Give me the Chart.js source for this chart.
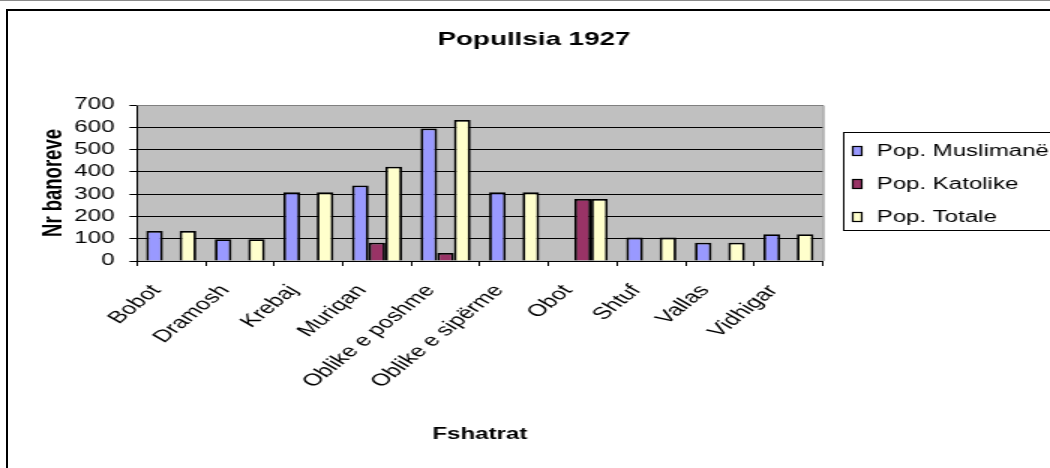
<!DOCTYPE html>
<html>
<head>
<meta charset="utf-8">
<script src="https://cdn.jsdelivr.net/npm/chart.js@4/dist/chart.umd.min.js"></script>
<style>
  html, body { margin: 0; padding: 0; background: #fff; width: 1050px; height: 468px; overflow: hidden; }
  #topline { position: absolute; left: 0; top: 0; width: 1050px; height: 1px; background: #8a8a8a; }
  #frame { position: absolute; left: 6px; top: 9px; width: 1100px; height: 520px; border: 2px solid #000; box-sizing: border-box; }
  #c { position: absolute; left: 0; top: 0; }
</style>
</head>
<body>
<div id="topline"></div>
<div id="frame"></div>
<canvas id="c" width="700" height="468" style="width:1050px;height:468px;"></canvas>
<script>
// ---- data ----
const chartTitle = 'Popullsia 1927';
const xAxisTitle = 'Fshatrat';
const yAxisTitle = 'Nr banoreve';
const categories = ['Bobot', 'Dramosh', 'Krebaj', 'Muriqan', 'Oblike e poshme', 'Oblike e sipërme', 'Obot', 'Shtuf', 'Vallas', 'Vidhigar'];
const seriesNames = ['Pop. Muslimanë', 'Pop. Katolike', 'Pop. Totale'];
const popMuslimane = [135, 98, 308, 339, 595, 308, null, 105, 82, 120];
const popKatolike  = [null, null, null, 82, 36, null, 278, null, null, null];
const popTotale    = [135, 98, 308, 423, 633, 308, 278, 105, 82, 120];
const yTicks = [0, 100, 200, 300, 400, 500, 600, 700];
const seriesColors = ['#9999FF', '#993366', '#FFFFCC'];

Chart.defaults.font.family = '"Liberation Sans", Arial, sans-serif';
Chart.defaults.color = '#000';

const decorPlugin = {
  id: 'decor',
  beforeDraw(chart) {
    const { ctx, chartArea: a } = chart;
    ctx.save();
    ctx.fillStyle = '#C0C0C0';
    ctx.fillRect(a.left, a.top, a.right - a.left, a.bottom - a.top);
    ctx.restore();
  },
  afterDraw(chart) {
    const { ctx, chartArea: a } = chart;
    ctx.save();
    ctx.strokeStyle = '#808080';
    ctx.lineWidth = 1;
    ctx.beginPath();
    ctx.moveTo(a.left, a.top + 0.5);
    ctx.lineTo(a.right + 0.5, a.top + 0.5);
    ctx.lineTo(a.right + 0.5, a.bottom);
    ctx.stroke();
    ctx.fillStyle = '#000';
    ctx.font = 'bold 18.5px "Liberation Sans", Arial, sans-serif';
    ctx.textAlign = 'center';
    ctx.textBaseline = 'middle';
    ctx.fillText(chartTitle, 356, 40);
    ctx.strokeStyle = '#000';
    ctx.lineWidth = 1;
    ctx.strokeRect(562.5, 132.5, 200, 98);
    ctx.font = '16px "Liberation Sans", Arial, sans-serif';
    ctx.textAlign = 'left';
    chart.data.datasets.forEach((ds, i) => {
      const y = 151 + i * 33;
      ctx.fillStyle = ds.backgroundColor;
      ctx.fillRect(568.5, y - 4.5, 6, 9);
      ctx.lineWidth = 1.2;
      ctx.strokeRect(568.5, y - 4.5, 6, 9);
      ctx.fillStyle = '#000';
      ctx.fillText(ds.label, 584.5, y + 1);
    });
    ctx.restore();
  }
};

new Chart(document.getElementById('c'), {
  type: 'bar',
  data: {
    labels: categories,
    datasets: [
      { label: seriesNames[0], data: popMuslimane, backgroundColor: seriesColors[0] },
      { label: seriesNames[1], data: popKatolike, backgroundColor: seriesColors[1] },
      { label: seriesNames[2], data: popTotale, backgroundColor: seriesColors[2] }
    ].map(d => Object.assign(d, { borderColor: '#000', borderWidth: 1.8, categoryPercentage: 0.73, barPercentage: 1.0 }))
  },
  options: {
    responsive: false,
    devicePixelRatio: 1,
    animation: false,
    layout: { padding: { left: 12, top: 105, right: 151.5, bottom: 0 } },
    plugins: {
      legend: { display: false },
      title: { display: false },
      tooltip: { enabled: false }
    },
    scales: {
      x: {
        grid: { display: true, drawOnChartArea: false, drawTicks: true, tickLength: 5, color: '#000', offset: true },
        border: { display: true, color: '#000', width: 1 },
        ticks: { autoSkip: false, maxRotation: 50, minRotation: 50, padding: 15, labelOffset: -10, font: { size: 17 }, color: '#000' },
        title: { display: true, text: xAxisTitle, font: { size: 16, weight: 'bold' }, padding: { top: 0, bottom: 23.4 }, color: '#000' },
        afterFit(scale) { scale.height = 207; }
      },
      y: {
        min: 0,
        max: 700,
        afterBuildTicks(scale) { scale.ticks = yTicks.map(v => ({ value: v })); },
        grid: {
          color: (c) => (c.tick && c.tick.value === 700 ? '#808080' : '#000'),
          tickColor: '#000',
          lineWidth: 1,
          tickLength: 5
        },
        border: { display: true, color: '#000', width: 1 },
        ticks: { padding: 10, font: { size: 16 }, color: '#000' },
        title: { display: true, text: yAxisTitle, font: { size: 18.5, weight: 'bold' }, padding: { top: 13, bottom: 0 }, color: '#000' },
        afterFit(scale) { scale.width = 79.3; }
      }
    }
  },
  plugins: [decorPlugin]
});
</script>
</body>
</html>
